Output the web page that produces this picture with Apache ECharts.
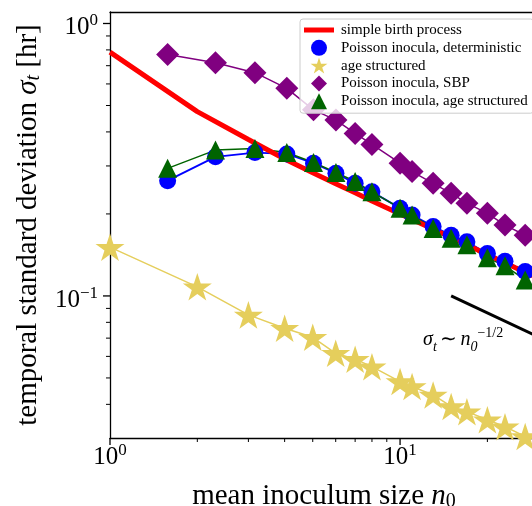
<!DOCTYPE html>
<html>
<head>
<meta charset="utf-8">
<script src="https://cdn.jsdelivr.net/npm/echarts@6/dist/echarts.min.js"></script>
<style>
  html, body { margin: 0; padding: 0; background: #fff; }
  #main { width: 532px; height: 506px; }
</style>
</head>
<body>
<div id="main"></div>
<script>
// mean inoculum sizes (x)
const nPoisson = [1.58, 2.31, 3.16, 4.07, 5.03, 6.01, 7.0, 8.0, 10, 11, 13, 15, 17, 20, 23, 27];
const nFixed = [1, 2, 3, 4, 5, 6, 7, 8, 10, 11, 13, 15, 17, 20, 23, 27];
const sbpN = [1, 2, 3, 4, 5, 6, 7, 8, 10, 12, 15, 20, 25, 30];

// temporal standard deviation (y)
const sbpSigma = [0.785, 0.475, 0.375, 0.318, 0.283, 0.258, 0.239, 0.223, 0.200, 0.183, 0.164, 0.142, 0.127, 0.116];
const poissonDet = [0.265, 0.324, 0.336, 0.332, 0.307, 0.282, 0.259, 0.241, 0.210, 0.198, 0.180, 0.167, 0.158, 0.143, 0.134, 0.123];
const ageStruct = [0.151, 0.108, 0.0852, 0.0761, 0.0705, 0.0616, 0.0586, 0.055, 0.0485, 0.0465, 0.0433, 0.0393, 0.0376, 0.0351, 0.0331, 0.0305];
const poissonSBP = [0.770, 0.718, 0.660, 0.578, 0.482, 0.442, 0.395, 0.360, 0.307, 0.286, 0.259, 0.238, 0.219, 0.201, 0.182, 0.167];
const poissonAge = [0.294, 0.343, 0.348, 0.336, 0.309, 0.284, 0.263, 0.241, 0.210, 0.198, 0.177, 0.163, 0.154, 0.138, 0.129, 0.1145];

// reference slope n0^(-1/2)
const slopeN = [15, 30];
const slopeSigma = [0.1, 0.0707];

// ticks
const xMajor = [1, 10];
const xMinor = [2, 3, 4, 5, 6, 7, 8, 9, 20];
const yMajor = [0.1, 1];
const yMinor = [0.04, 0.05, 0.06, 0.07, 0.08, 0.09, 0.2, 0.3, 0.4, 0.5, 0.6, 0.7, 0.8, 0.9];

const FONT = 'Liberation Serif';
const starPath = 'path://M100,0L122.45,69.1L195.11,69.1L136.33,111.8L158.78,180.9L100,138.2L41.22,180.9L63.67,111.8L4.89,69.1L77.55,69.1Z';
const diamondPath = 'path://M0,-1L1,0L0,1L-1,0Z';
const trianglePath = 'path://M0,-1L1,1L-1,1Z';

const RED = '#ff0000', BLUE = '#0000ff', YELLOW = '#e5ce5c', PURPLE = '#800080', GREEN = '#006400';

const X_MIN = 1, X_MAX = 28.5;
const Y_MIN = 0.0301, Y_MAX = 1.102;

function pts (xs, ys) {
  return xs.map((x, i) => [x, ys[i]]);
}

// 10^k labels
function powLabel (v) {
  const e = Math.round(Math.log10(v));
  return '{b|10}{s|' + (e < 0 ? '\u2212' + (-e) : e) + '}';
}
const tickRich = {
  b: { fontFamily: FONT, fontSize: 25, lineHeight: 30, color: '#000' },
  s: { fontFamily: FONT, fontSize: 17, lineHeight: 17, verticalAlign: 'top', color: '#000' }
};

// outward tick marks (matplotlib style), placed via the axes' own scales
function tickSeries (values, dir, len, width) {
  return {
    type: 'custom',
    silent: true,
    clip: false,
    z: 10,
    data: values.map(v => dir === 'x' ? [v, Y_MIN] : [X_MIN, v]),
    renderItem: (params, api) => {
      const p = api.coord([api.value(0), api.value(1)]);
      const shape = dir === 'x'
        ? { x1: p[0], y1: p[1], x2: p[0], y2: p[1] + len }
        : { x1: p[0] - len, y1: p[1], x2: p[0], y2: p[1] };
      return { type: 'line', shape: shape, style: { stroke: '#000', lineWidth: width } };
    }
  };
}

const myChart = echarts.init(document.getElementById('main'));

const option = {
  animation: false,
  backgroundColor: '#fff',
  grid: { left: 110, right: 0, top: 12, bottom: 68, containLabel: false, outerBoundsMode: 'none' },
  legend: {
    orient: 'vertical',
    left: 300,
    top: 19,
    itemWidth: 30,
    itemHeight: 16,
    itemGap: 1.8,
    padding: [3, 6, 4, 4],
    selectedMode: false,
    backgroundColor: 'rgba(255,255,255,0.8)',
    borderColor: '#cccccc',
    borderWidth: 1,
    borderRadius: 3,
    textStyle: { fontFamily: FONT, fontSize: 15, lineHeight: 16, color: '#000', padding: [0, 0, 0, 2] },
    data: [
      { name: 'simple birth process', icon: 'path://M0,0H30V5H0Z' },
      { name: 'Poisson inocula, deterministic', icon: 'circle' },
      { name: 'age structured', icon: starPath },
      { name: 'Poisson inocula, SBP', icon: diamondPath },
      { name: 'Poisson inocula, age structured', icon: trianglePath }
    ]
  },
  xAxis: [
    {
      type: 'log', logBase: 10, min: X_MIN, max: X_MAX, position: 'bottom',
      name: 'mean inoculum size {i|n}{sub|0}',
      nameLocation: 'middle',
      nameGap: 42,
      nameTextStyle: {
        fontFamily: FONT, fontSize: 29, color: '#000', lineHeight: 32,
        padding: [0, 0, 0, 6],
        rich: {
          i: { fontFamily: FONT, fontSize: 29, fontStyle: 'italic', lineHeight: 32 },
          sub: { fontFamily: FONT, fontSize: 20, lineHeight: 22, verticalAlign: 'bottom' }
        }
      },
      splitLine: { show: false },
      axisLine: { lineStyle: { color: '#000', width: 1.3 } },
      axisTick: { show: false },
      axisLabel: { customValues: xMajor, margin: 4, formatter: powLabel, rich: tickRich }
    },
    {
      type: 'log', logBase: 10, min: X_MIN, max: X_MAX, position: 'top',
      splitLine: { show: false },
      axisLine: { lineStyle: { color: '#000', width: 1.3 } },
      axisTick: { show: false },
      axisLabel: { show: false }
    }
  ],
  yAxis: {
    type: 'log', logBase: 10, min: Y_MIN, max: Y_MAX, position: 'left',
    name: 'temporal standard deviation {i|\u03c3}{sub|t} [hr]',
    nameLocation: 'middle',
    nameRotate: 90,
    nameGap: 66,
    nameTextStyle: {
      fontFamily: FONT, fontSize: 29, color: '#000', lineHeight: 32,
      rich: {
        i: { fontFamily: FONT, fontSize: 29, fontStyle: 'italic', lineHeight: 32 },
        sub: { fontFamily: FONT, fontSize: 20, fontStyle: 'italic', lineHeight: 22, verticalAlign: 'bottom' }
      }
    },
    splitLine: { show: false },
    axisLine: { show: true, lineStyle: { color: '#000', width: 1.3 } },
    axisTick: { show: false },
    axisLabel: { customValues: yMajor, margin: 12, padding: [8, 0, 0, 0], formatter: powLabel, rich: tickRich }
  },
  series: [
    tickSeries(xMajor, 'x', 7, 1.3),
    tickSeries(xMinor, 'x', 4, 1),
    tickSeries(yMajor, 'y', 7, 1.3),
    tickSeries(yMinor, 'y', 4, 1),
    {
      name: 'age structured', type: 'line',
      data: pts(nFixed, ageStruct),
      symbol: starPath, symbolSize: 29, symbolKeepAspect: true,
      color: YELLOW, itemStyle: { color: YELLOW },
      lineStyle: { color: YELLOW, width: 1.5 }
    },
    {
      name: 'Poisson inocula, SBP', type: 'line',
      data: pts(nPoisson, poissonSBP),
      symbol: 'diamond', symbolSize: 23,
      color: PURPLE, itemStyle: { color: PURPLE },
      lineStyle: { color: PURPLE, width: 1.5 }
    },
    {
      name: 'Poisson inocula, deterministic', type: 'line',
      data: pts(nPoisson, poissonDet),
      symbol: 'circle', symbolSize: 17,
      color: BLUE, itemStyle: { color: BLUE },
      lineStyle: { color: BLUE, width: 1.8 }
    },
    {
      name: 'Poisson inocula, age structured', type: 'line',
      data: pts(nPoisson, poissonAge),
      symbol: 'triangle', symbolSize: 19,
      color: GREEN, itemStyle: { color: GREEN },
      lineStyle: { color: GREEN, width: 1.5 }
    },
    {
      name: 'simple birth process', type: 'line',
      data: pts(sbpN, sbpSigma),
      symbol: 'none',
      color: RED, itemStyle: { color: RED },
      lineStyle: { color: RED, width: 5 }
    },
    {
      name: 'slope', type: 'line',
      data: pts(slopeN, slopeSigma),
      symbol: 'none', silent: true,
      lineStyle: { color: '#000', width: 3 },
      markPoint: {
        symbol: 'circle', symbolSize: 0, silent: true,
        data: [{ coord: [12.0, 0.069] }],
        label: {
          show: true, position: 'right', distance: 0,
          formatter: '{i|\u03c3}{sub|t} {b|\u223c} {i|n}{sub|0}{sup|\u22121/2}',
          rich: {
            i: { fontFamily: FONT, fontSize: 20, fontStyle: 'italic', lineHeight: 28, color: '#000' },
            b: { fontFamily: FONT, fontSize: 20, lineHeight: 28, color: '#000' },
            sub: { fontFamily: FONT, fontSize: 14, fontStyle: 'italic', lineHeight: 14, verticalAlign: 'bottom', color: '#000' },
            sup: { fontFamily: FONT, fontSize: 14, lineHeight: 14, verticalAlign: 'top', color: '#000' }
          }
        }
      }
    }
  ]
};

myChart.setOption(option);
window.onresize = () => myChart.resize();
</script>
</body>
</html>
